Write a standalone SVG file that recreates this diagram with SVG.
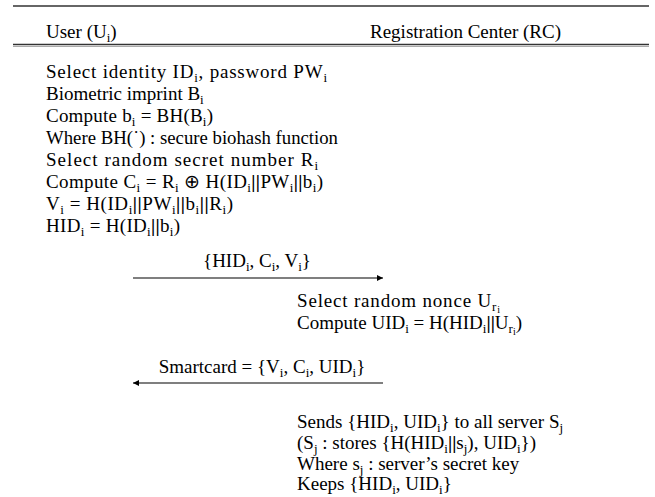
<svg xmlns="http://www.w3.org/2000/svg" width="655" height="497" viewBox="0 0 655 497">
<style>
text{font-family:"Liberation Serif","Times New Roman",serif;font-size:19px;fill:#000}
.s{font-size:13px;baseline-shift:-4px}
.s2{font-size:10px;baseline-shift:-2px}
.b{font-weight:bold}
.rule{stroke:#333;stroke-width:1.6}
.arrow{stroke:#000;stroke-width:1.1;fill:none}
</style>
<defs>
<marker id="ah" viewBox="0 0 10 10" refX="10" refY="5" markerWidth="8" markerHeight="6" markerUnits="userSpaceOnUse" orient="auto-start-reverse">
<path d="M0,0 L10,5 L0,10 z" fill="#000"/>
</marker>
</defs>
<rect width="655" height="497" fill="#fff"/>
<g id="header">
<line class="rule" x1="13" y1="6" x2="649" y2="6"/>
<line class="rule" x1="13" y1="44.5" x2="649" y2="44.5"/>
<line x1="13" y1="46.5" x2="649" y2="46.5" stroke="#aaa" stroke-width="1"/>
<text x="46" y="38">User (U<tspan class="s">i</tspan>)</text>
<text x="370" y="38">Registration Center (RC)</text>
</g>
<g id="user-registration">
<text x="46" y="78" textLength="281" lengthAdjust="spacing">Select identity ID<tspan class="s">i</tspan>, password PW<tspan class="s">i</tspan></text>
<text x="46" y="100">Biometric imprint B<tspan class="s">i</tspan></text>
<text x="46" y="122" textLength="167" lengthAdjust="spacing">Compute b<tspan class="s">i</tspan> = BH(B<tspan class="s">i</tspan>)</text>
<text x="46" y="144" textLength="292" lengthAdjust="spacingAndGlyphs">Where BH(˙) : secure biohash function</text>
<text x="46" y="166" textLength="272" lengthAdjust="spacing">Select random secret number R<tspan class="s">i</tspan></text>
<text x="46" y="188" textLength="277" lengthAdjust="spacing">Compute C<tspan class="s">i</tspan> = R<tspan class="s">i</tspan> ⊕ H(ID<tspan class="s">i</tspan><tspan class="b">||</tspan>PW<tspan class="s">i</tspan><tspan class="b">||</tspan>b<tspan class="s">i</tspan>)</text>
<text x="46" y="210" textLength="187" lengthAdjust="spacing">V<tspan class="s">i</tspan> = H(ID<tspan class="s">i</tspan><tspan class="b">||</tspan>PW<tspan class="s">i</tspan><tspan class="b">||</tspan>b<tspan class="s">i</tspan><tspan class="b">||</tspan>R<tspan class="s">i</tspan>)</text>
<text x="46" y="232" textLength="134" lengthAdjust="spacing">HID<tspan class="s">i</tspan> = H(ID<tspan class="s">i</tspan><tspan class="b">||</tspan>b<tspan class="s">i</tspan>)</text>
</g>
<g id="rc-nonce">
<text x="297" y="307" textLength="203" lengthAdjust="spacing">Select random nonce U<tspan class="s">r<tspan class="s2">i</tspan></tspan></text>
<text x="297" y="329">Compute UID<tspan class="s">i</tspan> = H(HID<tspan class="s">i</tspan><tspan class="b">||</tspan>U<tspan class="s">r<tspan class="s2">i</tspan></tspan>)</text>
</g>
<g id="rc-distribute">
<text x="297" y="428">Sends {HID<tspan class="s">i</tspan>, UID<tspan class="s">i</tspan>} to all server S<tspan class="s">j</tspan></text>
<text x="297" y="449">(S<tspan class="s">j</tspan> : stores {H(HID<tspan class="s">i</tspan><tspan class="b">||</tspan>s<tspan class="s">j</tspan>), UID<tspan class="s">i</tspan>})</text>
<text x="297" y="470">Where s<tspan class="s">j</tspan> : server’s secret key</text>
<text x="297" y="490">Keeps {HID<tspan class="s">i</tspan>, UID<tspan class="s">i</tspan>}</text>
</g>
<g id="connectors">
<line class="arrow" x1="133" y1="278" x2="383" y2="278" marker-end="url(#ah)"/>
<text x="257" y="267" text-anchor="middle">{HID<tspan class="s">i</tspan>, C<tspan class="s">i</tspan>, V<tspan class="s">i</tspan>}</text>
<line class="arrow" x1="383" y1="383" x2="133" y2="383" marker-end="url(#ah)"/>
<text x="262" y="373" text-anchor="middle">Smartcard = {V<tspan class="s">i</tspan>, C<tspan class="s">i</tspan>, UID<tspan class="s">i</tspan>}</text>
</g>
</svg>
